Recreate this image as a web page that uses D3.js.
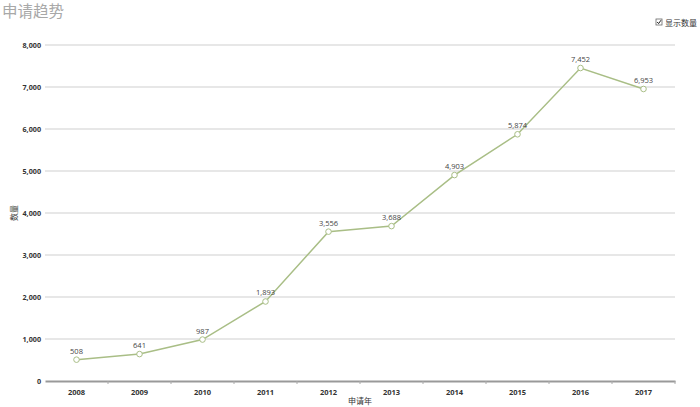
<!DOCTYPE html>
<html><head><meta charset="utf-8">
<script src="https://cdn.jsdelivr.net/npm/d3@7"></script>
<style>body{margin:0;background:#fff;}svg{display:block;font-family:"Noto Sans CJK SC","Open Sans",sans-serif;}</style>
</head><body><svg id="c" width="700" height="407"></svg>
<script>
const years = ["2008","2009","2010","2011","2012","2013","2014","2015","2016","2017"];
const counts = [508,641,987,1893,3556,3688,4903,5874,7452,6953];
const yTicks = [0,1000,2000,3000,4000,5000,6000,7000,8000];
const title = "申请趋势";
const legendText = "显示数量";
const xTitle = "申请年";
const yTitle = "数量";

const svg = d3.select("#c");
const m = {l:45, r:25, t:45, b:26};
const W = 700, H = 407;
const x = d3.scaleBand().domain(years).range([m.l, W - m.r]);
const y = d3.scaleLinear().domain([0,8000]).range([H - m.b, m.t]);
const lineColor = "#a9be86";

svg.append("text").attr("x",2).attr("y",17).attr("font-size",15.5).attr("fill","#a8a8a8").text(title);

// grid
svg.append("g").selectAll("line").data(yTicks.filter(d=>d>0)).join("line")
  .attr("x1",m.l).attr("x2",W-m.r).attr("y1",d=>y(d)).attr("y2",d=>y(d))
  .attr("stroke","#cfcfcf").attr("stroke-width",1);

// y axis labels
const fmt = d3.format(",");
svg.append("g").selectAll("text").data(yTicks).join("text")
  .attr("x",41).attr("y",d=>y(d)+2.5).attr("text-anchor","end")
  .attr("font-size",7.2).attr("font-weight","bold").attr("fill","#333")
  .attr("font-family","'Open Sans',sans-serif").text(d=>fmt(d));

// x axis
const xa = svg.append("g").attr("transform",`translate(0,${y(0)})`)
  .call(d3.axisBottom(x).tickSize(0).tickPadding(9));
xa.select(".domain").attr("stroke","#999").attr("stroke-width",2);
xa.selectAll("text").attr("font-size",7.5).attr("font-weight","bold").attr("fill","#333")
  .attr("font-family","'Open Sans',sans-serif");
// band edge ticks
svg.append("g").selectAll("line").data(years.slice(1).concat(["end"])).join("line")
  .attr("x1",d=>d==="end"?x.range()[1]:x(d)).attr("x2",d=>d==="end"?x.range()[1]:x(d))
  .attr("y1",y(0)).attr("y2",y(0)+3).attr("stroke","#aaa").attr("stroke-width",1);

svg.append("text").attr("x",(m.l+W-m.r)/2).attr("y",404).attr("text-anchor","middle")
  .attr("font-size",8).attr("fill","#333").text(xTitle);
svg.append("text").attr("transform",`translate(17,${(y(0)+y(8000))/2}) rotate(-90)`)
  .attr("text-anchor","middle").attr("font-size",8).attr("fill","#333").text(yTitle);

// line
const data = years.map((yr,i)=>({yr, v:counts[i]}));
const cx = d => x(d.yr) + x.bandwidth()/2;
svg.append("path").datum(data)
  .attr("d", d3.line().x(cx).y(d=>y(d.v)))
  .attr("fill","none").attr("stroke",lineColor).attr("stroke-width",1.5);
svg.append("g").selectAll("circle").data(data).join("circle")
  .attr("cx",cx).attr("cy",d=>y(d.v)).attr("r",2.8)
  .attr("fill","#fff").attr("stroke",lineColor).attr("stroke-width",1);
svg.append("g").selectAll("text").data(data).join("text")
  .attr("x",cx).attr("y",d=>y(d.v)-6).attr("text-anchor","middle")
  .attr("font-size",7.5).attr("fill","#444").attr("font-family","'Open Sans',sans-serif")
  .text(d=>fmt(d.v));

// legend
const lg = svg.append("g").attr("transform","translate(656,19)");
lg.append("rect").attr("x",0).attr("y",0).attr("width",6).attr("height",6)
  .attr("fill","#fff").attr("stroke","#666").attr("stroke-width",0.8);
lg.append("path").attr("d","M1.2,3 L2.6,4.6 L5,1.2").attr("fill","none").attr("stroke","#222").attr("stroke-width",1);
lg.append("text").attr("x",9).attr("y",6.5).attr("font-size",8).attr("fill","#333").text(legendText);
</script></body></html>
